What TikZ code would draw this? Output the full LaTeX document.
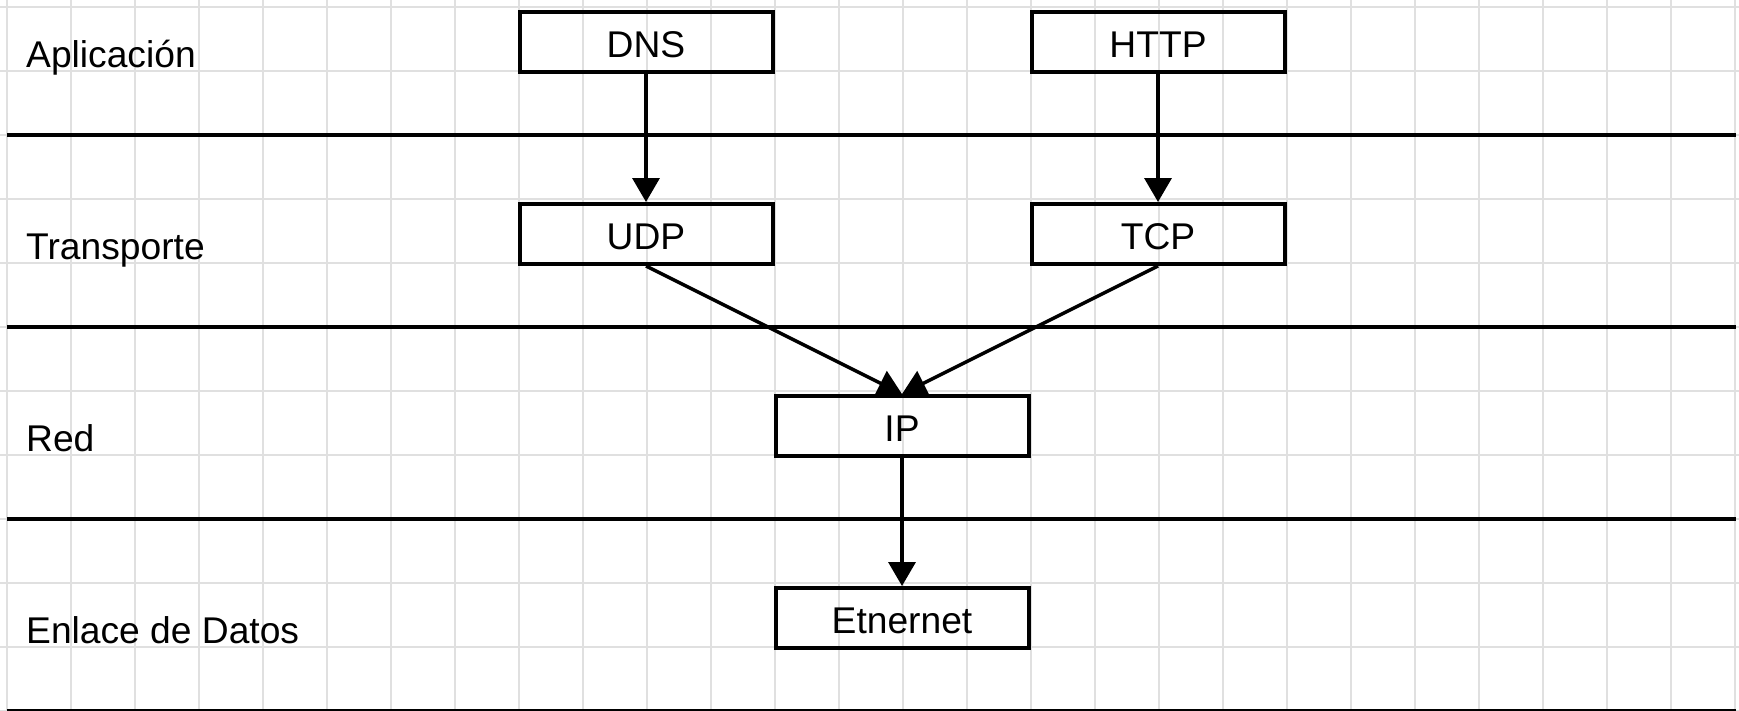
\documentclass[tikz,border=0pt]{standalone}
\usepackage{fontspec}
\setmainfont{Liberation Sans}
\usetikzlibrary{arrows.meta}
\definecolor{gridgray}{RGB}{224,224,224}
\begin{document}
\begin{tikzpicture}[x=1pt,y=-1pt,
  gridline/.style={draw=gridgray, line width=2pt},
  layerline/.style={draw=black, line width=4pt},
  proto/.style={draw=black, line width=4pt, minimum width=253pt, minimum height=60pt,
    inner sep=0pt, text height=30pt, text depth=0pt, font=\fontsize{37.2}{44}\selectfont},
  layerlabel/.style={anchor=base west, inner sep=0pt, font=\fontsize{37.2}{44}\selectfont},
  flow/.style={draw=black, line width=3.5pt, -{Triangle[length=24pt,width=27pt]}}]
\useasboundingbox (0,0) rectangle (1739,710);
\fill[white] (0,0) rectangle (1739,710);
% background grid
\foreach \i in {0,...,27} \draw[gridline] (7+64*\i,0) -- (7+64*\i,710);
\foreach \j in {0,...,11} \draw[gridline] (0,7+64*\j) -- (1739,7+64*\j);
% layer separators
\foreach \y in {135,327,519,711} \draw[layerline] (7,\y) -- (1736,\y);
% layer names
\node[layerlabel] (lapp) at (26,67) {Aplicación};
\node[layerlabel] (ltra) at (26,259) {Transporte};
\node[layerlabel] (lred) at (26,451) {Red};
\node[layerlabel] (lenl) at (26,643) {Enlace de Datos};
% protocols
\node[proto] (dns) at (646,42) {DNS};
\node[proto] (http) at (1158,42) {HTTP};
\node[proto] (udp) at (646,234) {UDP};
\node[proto] (tcp) at (1158,234) {TCP};
\node[proto] (ip) at (902,426) {IP};
\node[proto] (eth) at (902,618) {Etnernet};
% dependencies
\draw[flow] (dns.south) -- (udp.north);
\draw[flow] (http.south) -- (tcp.north);
\draw[flow] (udp.south) -- (ip.north);
\draw[flow] (tcp.south) -- (ip.north);
\draw[flow] (ip.south) -- (eth.north);
\end{tikzpicture}
\end{document}
